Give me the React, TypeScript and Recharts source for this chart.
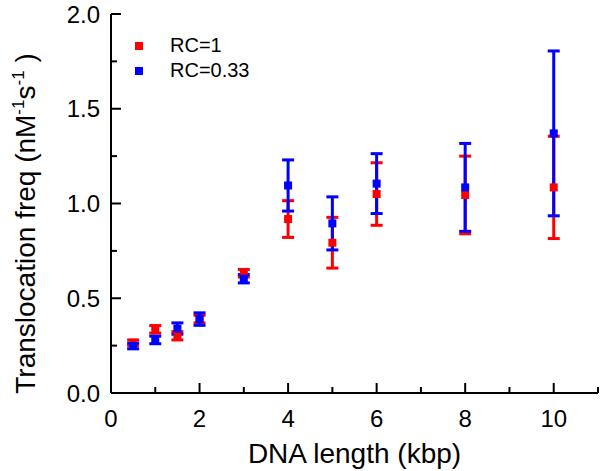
import React from 'react';
import { ScatterChart, Scatter, XAxis, YAxis, ErrorBar, Legend } from 'recharts';

// DNA length (kbp)
const lengths = [0.5, 1, 1.5, 2, 3, 4, 5, 6, 8, 10];
// RC = 1 series
const rc1Freq = [0.265, 0.336, 0.302, 0.39, 0.632, 0.918, 0.793, 1.05, 1.045, 1.085];
const rc1Err = [0.015, 0.02, 0.022, 0.02, 0.02, 0.097, 0.134, 0.165, 0.205, 0.27];
// RC = 0.33 series
const rc033Freq = [0.248, 0.28, 0.34, 0.39, 0.603, 1.095, 0.895, 1.105, 1.085, 1.37];
const rc033Err = [0.015, 0.02, 0.03, 0.033, 0.022, 0.135, 0.14, 0.158, 0.232, 0.435];

const xTicks = [0, 1, 2, 3, 4, 5, 6, 7, 8, 9, 10, 11];
const yTicks = [0, 0.25, 0.5, 0.75, 1, 1.25, 1.5, 1.75, 2];
const seriesNames = ['RC=1', 'RC=0.33'];
const RED = '#ff0000';
const BLUE = '#0000ff';
const FONT = 'Arial, "Liberation Sans", sans-serif';

const rc1Data = lengths.map((x, i) => ({ x, y: rc1Freq[i], err: rc1Err[i] }));
const rc033Data = lengths.map((x, i) => ({ x, y: rc033Freq[i], err: rc033Err[i] }));

const isMajorX = (v: number) => Math.abs(v % 2) < 1e-6;
const isMajorY = (v: number) => Math.abs(v * 2 - Math.round(v * 2)) < 1e-6;

const makeTick = (side: 'bottom' | 'top' | 'left' | 'right') => (props: any) => {
  const { x, y, payload } = props;
  const v = payload.value as number;
  if (side === 'bottom' || side === 'top') {
    const major = isMajorX(v);
    const len = major ? 10 : 6;
    const dir = side === 'bottom' ? -1 : 1;
    return (
      <g>
        <line x1={x} y1={y} x2={x} y2={y + dir * len} stroke="#000" strokeWidth={2} />
        {side === 'bottom' && major && (
          <text x={x} y={y + 34} textAnchor="middle" fontSize={24} fontFamily={FONT} fill="#000">
            {String(v)}
          </text>
        )}
      </g>
    );
  }
  const major = isMajorY(v);
  const len = major ? 10 : 6;
  const dir = side === 'left' ? 1 : -1;
  return (
    <g>
      <line x1={x} y1={y} x2={x + dir * len} y2={y} stroke="#000" strokeWidth={2} />
      {side === 'left' && major && (
        <text x={x - 11} y={y + 8.5} textAnchor="end" fontSize={24} fontFamily={FONT} fill="#000">
          {v.toFixed(1)}
        </text>
      )}
    </g>
  );
};

const Square = (color: string) => (p: any) => {
  if (p.cx == null || p.cy == null) return <g />;
  return <rect x={p.cx - 4} y={p.cy - 4} width={8} height={8} fill={color} />;
};
const Empty = () => <g />;

const YTitle = (props: any) => {
  const vb = props.viewBox || { x: 0, y: 0, width: 0, height: 0 };
  const cx = vb.x + 35;
  const cy = vb.y + vb.height / 2 + 20;
  return (
    <text
      x={cx}
      y={cy}
      transform={`rotate(-90, ${cx}, ${cy})`}
      textAnchor="middle"
      fontSize={28}
      fontFamily={FONT}
      fill="#000"
    >
      <tspan>Translocation freq (nM</tspan>
      <tspan fontSize={17} dy={-11}>-1</tspan>
      <tspan dy={11}>s</tspan>
      <tspan fontSize={17} dy={-11}>-1</tspan>
      <tspan dy={11}> )</tspan>
    </text>
  );
};

const XTitle = (props: any) => {
  const vb = props.viewBox || { x: 0, y: 0, width: 0, height: 0 };
  return (
    <text
      x={vb.x + vb.width / 2}
      y={vb.y + 70}
      textAnchor="middle"
      fontSize={28}
      fontFamily={FONT}
      fill="#000"
    >
      DNA length (kbp)
    </text>
  );
};

const LegendContent = () => (
  <div style={{ fontFamily: FONT, fontSize: 20, lineHeight: '25px', color: '#000' }}>
    {seriesNames.map((n, i) => (
      <div key={n} style={{ display: 'flex', alignItems: 'center', height: 25 }}>
        <span
          style={{
            display: 'inline-block',
            width: 8,
            height: 8,
            background: i === 0 ? RED : BLUE,
            marginRight: 27,
          }}
        />
        <span>{n}</span>
      </div>
    ))}
  </div>
);

export default function App() {
  return (
    <div style={{ position: 'absolute', left: 0, top: 0, width: 600, height: 471, background: '#fff' }}>
      <ScatterChart width={600} height={471} margin={{ top: 14, right: 2, bottom: 0, left: 0 }}>
        <XAxis
          xAxisId="b"
          type="number"
          dataKey="x"
          domain={[0, 11]}
          ticks={xTicks}
          interval={0}
          orientation="bottom"
          height={78}
          tickSize={0}
          tickMargin={0}
          tickLine={false}
          axisLine={{ stroke: '#000', strokeWidth: 2 }}
          tick={makeTick('bottom')}
          label={{ content: XTitle }}
        />
        <XAxis
          xAxisId="t"
          type="number"
          dataKey="x"
          domain={[0, 11]}
          ticks={xTicks}
          interval={0}
          orientation="top"
          height={0}
          tickSize={0}
          tickMargin={0}
          tickLine={false}
          axisLine={{ stroke: '#000', strokeWidth: 2 }}
          tick={makeTick('top')}
        />
        <YAxis
          yAxisId="l"
          type="number"
          dataKey="y"
          domain={[0, 2]}
          ticks={yTicks}
          interval={0}
          orientation="left"
          width={111}
          tickSize={0}
          tickMargin={0}
          tickLine={false}
          axisLine={{ stroke: '#000', strokeWidth: 2 }}
          tick={makeTick('left')}
          label={{ content: YTitle }}
        />
        <YAxis
          yAxisId="r"
          type="number"
          dataKey="y"
          domain={[0, 2]}
          ticks={yTicks}
          interval={0}
          orientation="right"
          width={0}
          tickSize={0}
          tickMargin={0}
          tickLine={false}
          axisLine={{ stroke: '#000', strokeWidth: 2 }}
          tick={makeTick('right')}
        />
        <Legend
          layout="vertical"
          align="center"
          verticalAlign="middle"
          content={LegendContent}
          wrapperStyle={{ left: 135, top: 33, width: 150, height: 50 }}
        />
        <Scatter
          name="RC=1"
          data={rc1Data}
          xAxisId="b"
          yAxisId="l"
          fill={RED}
          shape={Square(RED)}
          isAnimationActive={false}
        />
        <Scatter
          name="RC=0.33"
          data={rc033Data}
          xAxisId="b"
          yAxisId="l"
          fill={BLUE}
          shape={Square(BLUE)}
          isAnimationActive={false}
        />
        <Scatter
          name="RC=1 err"
          data={rc1Data}
          xAxisId="b"
          yAxisId="l"
          fill={RED}
          shape={Empty}
          legendType="none"
          isAnimationActive={false}
        >
          <ErrorBar dataKey="err" direction="y" width={6} strokeWidth={3} stroke={RED} isAnimationActive={false} />
        </Scatter>
        <Scatter
          name="RC=0.33 err"
          data={rc033Data}
          xAxisId="b"
          yAxisId="l"
          fill={BLUE}
          shape={Empty}
          legendType="none"
          isAnimationActive={false}
        >
          <ErrorBar dataKey="err" direction="y" width={6} strokeWidth={3} stroke={BLUE} isAnimationActive={false} />
        </Scatter>
      </ScatterChart>
    </div>
  );
}
